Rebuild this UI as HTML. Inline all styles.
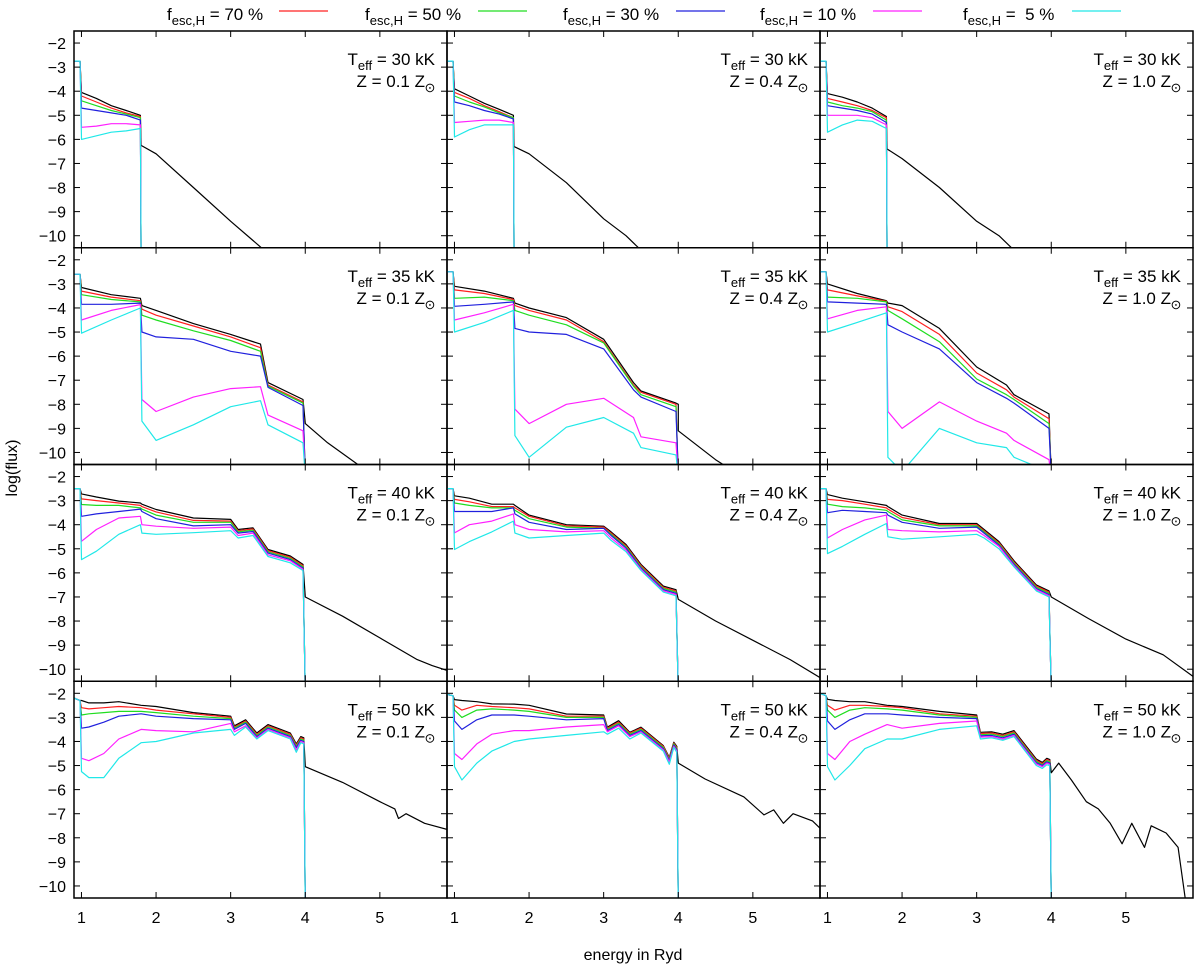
<!DOCTYPE html>
<html><head><meta charset="utf-8"><style>
body{margin:0;background:#fff;}
svg{display:block;font-family:"Liberation Sans",sans-serif;}
</style></head><body>
<svg id="chart" width="1200" height="970" viewBox="0 0 1200 970" xmlns="http://www.w3.org/2000/svg"></svg>
<script>
// ---- data ----
const fescLabels = ["70 %","50 %","30 %","10 %"," 5 %"];
const seriesColors = ["#000000","#ff2020","#20dd20","#2020dd","#ff20ff","#20e8e8"];
const teffLabels = ["30","35","40","50"];
const zLabels = ["0.1","0.4","1.0"];
const xTicks = [1,2,3,4,5];
const yTicks = [-2,-3,-4,-5,-6,-7,-8,-9,-10];

const xsRow0 = [0.9,0.98,1.0,1.2,1.4,1.6,1.79,1.8];
const xsRow1 = [0.9,0.98,1.0,1.4,1.79,1.81,2.0,2.5,3.0,3.4,3.5,3.97,4.0];
const xsRow2 = [0.9,0.98,1.0,1.2,1.5,1.79,1.81,2.0,2.5,3.0,3.1,3.3,3.5,3.8,3.97,4.0];
const xsRow3 = [0.9,0.98,1.0,1.1,1.3,1.5,1.8,2.0,2.5,3.0,3.05,3.2,3.35,3.5,3.8,3.88,3.94,3.98,4.0];

// panel 30kK Z=0.1
const p00Black = [-2.75,-2.75,-4.05,-4.3,-4.6,-4.8,-5.0];
const p00TailX = [1.8,2.0,2.5,3.0,3.3,3.45];
const p00TailY = [-6.25,-6.6,-8.0,-9.4,-10.2,-10.6];
const p00Red = [-2.75,-2.75,-4.2,-4.45,-4.7,-4.9,-5.05,-11];
const p00Green = [-2.75,-2.75,-4.4,-4.6,-4.8,-4.95,-5.1,-11];
const p00Blue = [-2.75,-2.75,-4.7,-4.8,-4.9,-5.0,-5.2,-11];
const p00Mag = [-2.75,-2.75,-5.5,-5.45,-5.35,-5.35,-5.4,-11];
const p00Cyan = [-2.75,-2.75,-6.0,-5.85,-5.7,-5.65,-5.55,-11];
// 30kK Z=0.4
const p01Black = [-2.75,-2.75,-3.9,-4.2,-4.5,-4.75,-5.0];
const p01TailX = [1.8,2.0,2.5,3.0,3.3,3.5];
const p01TailY = [-6.3,-6.6,-7.8,-9.3,-10.0,-10.6];
const p01Red = [-2.75,-2.75,-4.05,-4.3,-4.6,-4.85,-5.1,-11];
const p01Green = [-2.75,-2.75,-4.2,-4.45,-4.65,-4.9,-5.1,-11];
const p01Blue = [-2.75,-2.75,-4.45,-4.6,-4.8,-4.95,-5.15,-11];
const p01Mag = [-2.75,-2.75,-5.3,-5.25,-5.2,-5.2,-5.3,-11];
const p01Cyan = [-2.75,-2.75,-5.9,-5.6,-5.4,-5.4,-5.4,-11];
// 30kK Z=1.0
const p02Black = [-2.75,-2.75,-4.1,-4.25,-4.45,-4.7,-5.05];
const p02TailX = [1.8,2.0,2.5,3.0,3.3,3.5];
const p02TailY = [-6.4,-6.8,-8.0,-9.4,-10.0,-10.6];
const p02Red = [-2.75,-2.75,-4.3,-4.45,-4.6,-4.8,-5.1,-11];
const p02Green = [-2.75,-2.75,-4.45,-4.6,-4.7,-4.85,-5.2,-11];
const p02Blue = [-2.75,-2.75,-4.6,-4.7,-4.8,-4.95,-5.3,-11];
const p02Mag = [-2.75,-2.75,-5.0,-5.0,-5.0,-5.1,-5.4,-11];
const p02Cyan = [-2.75,-2.75,-5.7,-5.4,-5.2,-5.25,-5.55,-11];

// 35kK Z=0.1
const p10Black = [-2.6,-2.6,-3.15,-3.45,-3.6,-3.9,-4.1,-4.65,-5.1,-5.5,-7.1,-7.8];
const p10TailX = [4.0,4.3,4.75];
const p10TailY = [-8.8,-9.6,-10.6];
const p10Red = [-2.6,-2.6,-3.3,-3.55,-3.7,-4.05,-4.3,-4.75,-5.2,-5.65,-7.2,-7.9,-11];
const p10Green = [-2.6,-2.6,-3.45,-3.65,-3.75,-4.3,-4.5,-4.95,-5.35,-5.8,-7.25,-7.95,-11];
const p10Blue = [-2.6,-2.6,-3.85,-3.85,-3.8,-5.0,-5.2,-5.3,-5.8,-6.0,-7.3,-8.05,-11];
const p10Mag = [-2.6,-2.6,-4.5,-4.1,-3.86,-7.8,-8.3,-7.7,-7.35,-7.27,-8.45,-9.1,-11];
const p10Cyan = [-2.6,-2.6,-5.05,-4.5,-4.0,-8.7,-9.5,-8.85,-8.1,-7.85,-8.85,-9.6,-11];
// 35kK Z=0.4
const p11Black = [-2.5,-2.5,-3.1,-3.3,-3.6,-3.8,-4.0,-4.4,-5.3,-7.1,-7.45,-7.95,-8.0];
const p11TailX = [4.0,4.5,4.65];
const p11TailY = [-9.1,-10.3,-10.6];
const p11Red = [-2.5,-2.5,-3.25,-3.4,-3.65,-3.9,-4.1,-4.5,-5.4,-7.2,-7.5,-8.0,-11];
const p11Green = [-2.5,-2.5,-3.6,-3.55,-3.7,-4.1,-4.3,-4.7,-5.45,-7.25,-7.6,-8.1,-11];
const p11Blue = [-2.5,-2.5,-3.93,-3.85,-3.75,-4.85,-5.0,-5.1,-5.7,-7.4,-7.7,-8.3,-11];
const p11Mag = [-2.5,-2.5,-4.5,-4.2,-3.85,-8.2,-8.8,-8.0,-7.75,-8.55,-9.35,-9.6,-11];
const p11Cyan = [-2.5,-2.5,-5.0,-4.6,-4.1,-9.3,-10.2,-8.95,-8.55,-9.2,-9.8,-10.1,-11];
// 35kK Z=1.0
const p12Black = [-2.5,-2.5,-3.0,-3.4,-3.7,-3.8,-3.9,-4.85,-6.45,-7.2,-7.6,-8.4];
const p12TailX = [4.0];
const p12TailY = [-11];
const p12Red = [-2.5,-2.5,-3.25,-3.5,-3.72,-3.95,-4.15,-5.1,-6.7,-7.4,-7.7,-8.6,-11];
const p12Green = [-2.5,-2.5,-3.55,-3.6,-3.75,-4.1,-4.45,-5.4,-6.95,-7.6,-7.8,-8.8,-11];
const p12Blue = [-2.5,-2.5,-3.75,-3.8,-3.85,-4.7,-5.0,-5.7,-7.1,-7.75,-7.95,-9.0,-11];
const p12Mag = [-2.5,-2.5,-4.45,-4.1,-3.95,-8.3,-9.0,-7.9,-8.7,-9.2,-9.5,-10.3,-11];
const p12Cyan = [-2.5,-2.5,-5.0,-4.6,-4.2,-10.2,-10.8,-9.0,-9.6,-9.8,-10.2,-10.8,-11];

// 40kK Z=0.1
const p20Black = [-2.5,-2.5,-2.72,-2.85,-3.02,-3.1,-3.15,-3.37,-3.72,-3.78,-4.2,-4.13,-5.03,-5.3,-5.65];
const p20TailX = [4.0,4.5,5.0,5.5,5.7,5.9];
const p20TailY = [-7.0,-7.8,-8.7,-9.6,-9.85,-10.05];
const p20Red = [-2.5,-2.5,-2.93,-3.0,-3.1,-3.2,-3.25,-3.47,-3.82,-3.85,-4.25,-4.18,-5.08,-5.35,-5.7,-11];
const p20Green = [-2.5,-2.5,-3.16,-3.2,-3.2,-3.3,-3.35,-3.6,-3.9,-3.9,-4.3,-4.23,-5.13,-5.4,-5.75,-11];
const p20Blue = [-2.5,-2.5,-3.65,-3.55,-3.45,-3.35,-3.45,-3.75,-4.05,-4.0,-4.35,-4.28,-5.18,-5.45,-5.8,-11];
const p20Mag = [-2.5,-2.5,-4.69,-4.2,-3.72,-3.65,-4.0,-4.06,-4.15,-4.1,-4.45,-4.35,-5.25,-5.5,-5.85,-11];
const p20Cyan = [-2.5,-2.5,-5.45,-5.1,-4.4,-4.0,-4.35,-4.4,-4.33,-4.25,-4.55,-4.45,-5.32,-5.58,-5.9,-11];
// 40kK Z=0.4
const p21Black = [-2.5,-2.5,-2.8,-2.9,-3.15,-3.15,-3.2,-3.6,-4.0,-4.06,-4.3,-4.82,-5.65,-6.55,-6.7];
const p21TailX = [4.0,4.5,5.0,5.5,5.9];
const p21TailY = [-7.1,-8.0,-8.8,-9.6,-10.35];
const p21Red = [-2.5,-2.5,-2.95,-3.05,-3.25,-3.25,-3.3,-3.65,-4.05,-4.1,-4.35,-4.87,-5.7,-6.6,-6.75,-11];
const p21Green = [-2.5,-2.5,-3.1,-3.2,-3.3,-3.3,-3.4,-3.75,-4.1,-4.15,-4.4,-4.92,-5.75,-6.65,-6.8,-11];
const p21Blue = [-2.5,-2.5,-3.45,-3.45,-3.45,-3.3,-3.55,-3.9,-4.2,-4.15,-4.45,-4.97,-5.8,-6.7,-6.85,-11];
const p21Mag = [-2.5,-2.5,-4.34,-4.0,-3.85,-3.55,-4.0,-4.2,-4.3,-4.25,-4.55,-5.05,-5.85,-6.75,-6.9,-11];
const p21Cyan = [-2.5,-2.5,-5.03,-4.7,-4.3,-3.85,-4.35,-4.55,-4.45,-4.35,-4.65,-5.12,-5.9,-6.8,-6.95,-11];
// 40kK Z=1.0
const p22Black = [-2.5,-2.5,-2.75,-2.9,-3.05,-3.2,-3.25,-3.6,-3.95,-3.95,-4.2,-4.7,-5.5,-6.5,-6.75];
const p22TailX = [4.0,4.5,5.0,5.5,5.9];
const p22TailY = [-7.0,-7.9,-8.75,-9.4,-10.3];
const p22Red = [-2.5,-2.5,-2.95,-3.0,-3.15,-3.3,-3.35,-3.7,-4.0,-4.0,-4.25,-4.75,-5.55,-6.55,-6.8,-11];
const p22Green = [-2.5,-2.5,-3.15,-3.25,-3.3,-3.4,-3.45,-3.8,-4.05,-4.05,-4.3,-4.8,-5.6,-6.6,-6.85,-11];
const p22Blue = [-2.5,-2.5,-3.5,-3.4,-3.45,-3.5,-3.6,-3.9,-4.15,-4.1,-4.35,-4.85,-5.65,-6.65,-6.9,-11];
const p22Mag = [-2.5,-2.5,-4.55,-4.2,-3.8,-3.6,-4.2,-4.25,-4.3,-4.25,-4.45,-4.9,-5.7,-6.7,-6.95,-11];
const p22Cyan = [-2.5,-2.5,-5.2,-4.9,-4.4,-3.95,-4.5,-4.6,-4.5,-4.4,-4.55,-5.0,-5.75,-6.75,-7.0,-11];

// 50kK Z=0.1
const p30Black = [-2.2,-2.3,-2.3,-2.4,-2.4,-2.35,-2.5,-2.55,-2.8,-2.95,-3.35,-3.1,-3.65,-3.3,-3.65,-4.1,-3.8,-3.85];
const p30TailX = [4.0,4.5,5.0,5.2,5.25,5.35,5.6,5.9];
const p30TailY = [-5.05,-5.7,-6.5,-6.8,-7.2,-7.0,-7.4,-7.65];
const p30Red = [-2.2,-2.3,-2.6,-2.65,-2.6,-2.55,-2.6,-2.7,-2.85,-3.0,-3.4,-3.15,-3.7,-3.35,-3.7,-4.15,-3.85,-3.9,-11];
const p30Green = [-2.2,-2.3,-2.9,-2.85,-2.8,-2.75,-2.75,-2.8,-2.95,-3.05,-3.45,-3.2,-3.75,-3.4,-3.75,-4.2,-3.9,-3.95,-11];
const p30Blue = [-2.2,-2.3,-3.45,-3.4,-3.2,-2.95,-2.85,-2.95,-3.05,-3.1,-3.5,-3.25,-3.8,-3.45,-3.8,-4.25,-3.95,-4.0,-11];
const p30Mag = [-2.2,-2.3,-4.7,-4.8,-4.5,-3.9,-3.5,-3.55,-3.6,-3.25,-3.6,-3.35,-3.85,-3.5,-3.85,-4.35,-4.0,-4.05,-11];
const p30Cyan = [-2.2,-2.3,-5.25,-5.5,-5.5,-4.7,-4.05,-4.0,-3.65,-3.5,-3.75,-3.4,-3.9,-3.55,-3.9,-4.45,-4.05,-4.1,-11];
// 50kK Z=0.4
const p31Black = [-2.05,-2.1,-2.26,-2.3,-2.35,-2.44,-2.45,-2.5,-2.86,-2.9,-3.41,-3.14,-3.62,-3.41,-4.17,-4.66,-4.03,-4.2];
const p31TailX = [4.0,4.36,4.88,5.15,5.28,5.41,5.54,5.8,5.9];
const p31TailY = [-4.9,-5.56,-6.3,-7.05,-6.84,-7.4,-7.0,-7.3,-7.6];
const p31Red = [-2.05,-2.1,-2.5,-2.7,-2.5,-2.55,-2.6,-2.65,-2.95,-2.95,-3.45,-3.2,-3.65,-3.45,-4.2,-4.7,-4.07,-4.25,-11];
const p31Green = [-2.05,-2.1,-2.7,-3.0,-2.7,-2.65,-2.7,-2.75,-3.0,-3.0,-3.5,-3.25,-3.7,-3.5,-4.25,-4.75,-4.1,-4.3,-11];
const p31Blue = [-2.05,-2.1,-3.15,-3.5,-3.1,-2.9,-2.9,-2.95,-3.1,-3.05,-3.55,-3.3,-3.75,-3.55,-4.3,-4.8,-4.15,-4.35,-11];
const p31Mag = [-2.05,-2.1,-4.5,-4.75,-4.1,-3.7,-3.55,-3.55,-3.4,-3.3,-3.6,-3.35,-3.8,-3.6,-4.35,-4.85,-4.2,-4.4,-11];
const p31Cyan = [-2.05,-2.1,-5.05,-5.6,-4.9,-4.4,-4.0,-3.9,-3.75,-3.6,-3.7,-3.45,-3.9,-3.65,-4.4,-4.95,-4.25,-4.45,-11];
// 50kK Z=1.0
const p32Black = [-2.0,-2.1,-2.25,-2.3,-2.35,-2.35,-2.5,-2.55,-2.75,-2.9,-3.62,-3.6,-3.7,-3.55,-4.73,-4.87,-4.7,-4.75];
const p32TailX = [4.0,4.1,4.27,4.47,4.63,4.79,4.95,5.08,5.25,5.34,5.54,5.7,5.8];
const p32TailY = [-5.3,-4.9,-5.6,-6.5,-6.8,-7.4,-8.25,-7.4,-8.4,-7.5,-7.8,-8.4,-10.6];
const p32Red = [-2.0,-2.1,-2.5,-2.7,-2.5,-2.5,-2.55,-2.6,-2.85,-2.95,-3.67,-3.65,-3.75,-3.6,-4.78,-4.92,-4.75,-4.8,-11];
const p32Green = [-2.0,-2.1,-2.7,-3.0,-2.7,-2.6,-2.65,-2.7,-2.9,-3.0,-3.72,-3.7,-3.8,-3.65,-4.83,-4.97,-4.8,-4.85,-11];
const p32Blue = [-2.0,-2.1,-3.15,-3.5,-3.1,-2.85,-2.85,-2.9,-3.0,-3.05,-3.77,-3.75,-3.85,-3.7,-4.88,-5.0,-4.85,-4.9,-11];
const p32Mag = [-2.0,-2.1,-4.5,-4.75,-4.0,-3.7,-3.3,-3.45,-3.25,-3.15,-3.82,-3.8,-3.9,-3.75,-4.93,-5.05,-4.9,-4.95,-11];
const p32Cyan = [-2.0,-2.1,-5.05,-5.6,-5.0,-4.3,-3.9,-3.9,-3.5,-3.35,-3.9,-3.85,-3.95,-3.8,-5.0,-5.12,-4.97,-5.0,-11];

const panels = [
 [xsRow0,p00Black,p00TailX,p00TailY,[p00Red,p00Green,p00Blue,p00Mag,p00Cyan]],
 [xsRow0,p01Black,p01TailX,p01TailY,[p01Red,p01Green,p01Blue,p01Mag,p01Cyan]],
 [xsRow0,p02Black,p02TailX,p02TailY,[p02Red,p02Green,p02Blue,p02Mag,p02Cyan]],
 [xsRow1,p10Black,p10TailX,p10TailY,[p10Red,p10Green,p10Blue,p10Mag,p10Cyan]],
 [xsRow1,p11Black,p11TailX,p11TailY,[p11Red,p11Green,p11Blue,p11Mag,p11Cyan]],
 [xsRow1,p12Black,p12TailX,p12TailY,[p12Red,p12Green,p12Blue,p12Mag,p12Cyan]],
 [xsRow2,p20Black,p20TailX,p20TailY,[p20Red,p20Green,p20Blue,p20Mag,p20Cyan]],
 [xsRow2,p21Black,p21TailX,p21TailY,[p21Red,p21Green,p21Blue,p21Mag,p21Cyan]],
 [xsRow2,p22Black,p22TailX,p22TailY,[p22Red,p22Green,p22Blue,p22Mag,p22Cyan]],
 [xsRow3,p30Black,p30TailX,p30TailY,[p30Red,p30Green,p30Blue,p30Mag,p30Cyan]],
 [xsRow3,p31Black,p31TailX,p31TailY,[p31Red,p31Green,p31Blue,p31Mag,p31Cyan]],
 [xsRow3,p32Black,p32TailX,p32TailY,[p32Red,p32Green,p32Blue,p32Mag,p32Cyan]]
];

// ---- layout ----
const svg = document.getElementById('chart');
const NS = 'http://www.w3.org/2000/svg';
const L0 = 74, PW = 373, T0 = 31, PH = 216.75;
const XMIN = 0.9, XMAX = 5.9, YMIN = -10.5, YMAX = -1.5;
function mk(tag, attrs, parent){ const e = document.createElementNS(NS, tag); for (const k in attrs) e.setAttribute(k, attrs[k]); (parent||svg).appendChild(e); return e; }
function sx(c, v){ return L0 + c*PW + (v - XMIN)/(XMAX - XMIN)*PW; }
function sy(r, v){ return T0 + r*PH + (YMAX - v)/(YMAX - YMIN)*PH; }

// clip paths
const defs = mk('defs', {});
for (let i=0;i<12;i++){
  const r = Math.floor(i/3), c = i%3;
  const cp = mk('clipPath', {id:'cp'+i}, defs);
  mk('rect', {x:L0+c*PW, y:T0+r*PH, width:PW, height:PH}, cp);
}

function line(r, c, xs, ys, color, g){
  let d = '';
  for (let k=0;k<ys.length;k++){ d += (k?'L':'M') + sx(c, xs[k]).toFixed(1) + ',' + sy(r, ys[k]).toFixed(1); }
  return mk('path', {d:d, fill:'none', stroke:color, 'stroke-width':1.2, 'stroke-linejoin':'round'}, g);
}

const names = ['red','green','blue','magenta','cyan'];
panels.forEach((p, i) => {
  const r = Math.floor(i/3), c = i%3;
  const g = mk('g', {'clip-path':'url(#cp'+i+')'});
  
  
  const xs = p[0];
  const bx = xs.slice(0, p[1].length).concat(p[2]);
  const by = p[1].concat(p[3]);
  const bl = line(r, c, bx, by, seriesColors[0], g);
  
  
  p[4].forEach((ys, s) => {
    const el = line(r, c, xs, ys, seriesColors[s+1], g);
    
    
  });
  // frame
  const fr = mk('rect', {x:L0+c*PW, y:T0+r*PH, width:PW, height:PH, fill:'none', stroke:'#000', 'stroke-width':1.5});
  
  
  // ticks
  yTicks.forEach(t => {
    const y = sy(r, t);
    mk('line', {x1:L0+c*PW, x2:L0+c*PW+6, y1:y, y2:y, stroke:'#000', 'stroke-width':1});
    mk('line', {x1:L0+(c+1)*PW-6, x2:L0+(c+1)*PW, y1:y, y2:y, stroke:'#000', 'stroke-width':1});
    if (c===0){
      const tl = mk('text', {x:66, y:y+6, 'text-anchor':'end', 'font-size':16});
      tl.textContent = '\u2212' + Math.abs(t);
      
      
    }
  });
  xTicks.forEach(t => {
    const x = sx(c, t);
    mk('line', {x1:x, x2:x, y1:T0+r*PH, y2:T0+r*PH+6, stroke:'#000', 'stroke-width':1});
    mk('line', {x1:x, x2:x, y1:T0+(r+1)*PH-6, y2:T0+(r+1)*PH, stroke:'#000', 'stroke-width':1});
    if (r===3){
      const tl = mk('text', {x:x, y:923, 'text-anchor':'middle', 'font-size':16});
      tl.textContent = t;
      
      
    }
  });
  // annotation
  const rx = L0 + (c+1)*PW - 12, ty = T0 + r*PH;
  const t1 = mk('text', {x:rx, y:ty+34, 'text-anchor':'end', 'font-size':17});
  t1.innerHTML = 'T<tspan font-size="13" dy="5">eff</tspan><tspan dy="-5"> = ' + teffLabels[r] + ' kK</tspan>';
  
  
  const t2 = mk('text', {x:rx-10, y:ty+56, 'text-anchor':'end', 'font-size':17});
  t2.textContent = 'Z = ' + (r===1 && c===0 ? ' ' : '') + zLabels[c] + ' Z';
  
  
  const sun = mk('text', {x:rx-5, y:ty+61, 'text-anchor':'middle', 'font-size':13});
  sun.textContent = '\u2299';
  
  
});

// legend
const legTextX = [167,365,563,760,963];
const legLineX = [279,478,676,873,1072];
fescLabels.forEach((lab, i) => {
  const t = mk('text', {x:legTextX[i], y:20, 'font-size':17});
  t.innerHTML = 'f<tspan font-size="13" dy="5">esc,H</tspan><tspan dy="-5"> = ' + lab.replace(' ','\u00a0') + '</tspan>';
  
  
  const l = mk('line', {x1:legLineX[i], x2:legLineX[i]+49, y1:11, y2:11, stroke:seriesColors[i+1], 'stroke-width':1.2});
  
  
});

// axis titles
const xt = mk('text', {x:633, y:960, 'text-anchor':'middle', 'font-size':16});
xt.textContent = 'energy in Ryd';


const yt = mk('text', {x:0, y:0, 'text-anchor':'middle', 'font-size':16, transform:'translate(17,468) rotate(-90)'});
yt.textContent = 'log(flux)';


</script>
</body></html>
